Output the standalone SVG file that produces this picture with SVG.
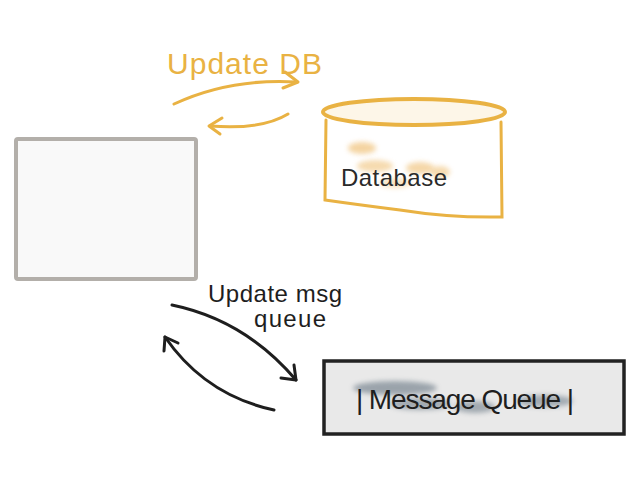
<svg xmlns="http://www.w3.org/2000/svg" width="638" height="479" viewBox="0 0 638 479">
<style>
.or{fill:none;stroke:#e9b243;stroke-width:3;stroke-linecap:round;stroke-linejoin:round}
.bk{fill:none;stroke:#1e1e1e;stroke-width:3;stroke-linecap:round;stroke-linejoin:round}
.hand{font-family:"Liberation Sans",Arial,sans-serif;font-weight:normal}
</style>
<defs>
<filter id="blur" x="-30%" y="-80%" width="160%" height="260%"><feGaussianBlur stdDeviation="2.5"/></filter>
</defs>
<rect width="638" height="479" fill="#ffffff"/>
<g id="server">
<rect x="16" y="139" width="180" height="140" fill="#f9f9f9" stroke="#b3afaa" stroke-width="4" rx="2"/>
</g>
<g id="database">
<path d="M326 120 L325 200 Q360 205 400 210 Q450 218 502 217 L501 122" fill="#ffffff" stroke="#e9b243" stroke-width="3" stroke-linecap="round"/>
<ellipse cx="414" cy="112" rx="91" ry="13" fill="#fdf6e8" stroke="#e9b243" stroke-width="4"/>
<ellipse cx="362" cy="148" rx="14" ry="6" fill="#f0c27a" opacity="0.7" filter="url(#blur)"/>
<ellipse cx="375" cy="166" rx="18" ry="6" fill="#f0c27a" opacity="0.6" filter="url(#blur)"/>
<ellipse cx="420" cy="168" rx="14" ry="6" fill="#f0c27a" opacity="0.65" filter="url(#blur)"/>
<ellipse cx="440" cy="172" rx="10" ry="6" fill="#f0c27a" opacity="0.6" filter="url(#blur)"/>
<ellipse cx="395" cy="183" rx="16" ry="5" fill="#f0c27a" opacity="0.45" filter="url(#blur)"/>
<text class="hand" x="341" y="186" font-size="24" fill="#2a2a2a" textLength="106">Database</text>
</g>
<g id="queue">
<rect x="324" y="361" width="300" height="73" fill="#e9e9e9" stroke="#222" stroke-width="3.5"/>
<ellipse cx="395" cy="388" rx="42" ry="7" fill="#5a6a78" opacity="0.55" filter="url(#blur)"/>
<ellipse cx="420" cy="404" rx="30" ry="6" fill="#5a6a78" opacity="0.5" filter="url(#blur)"/>
<ellipse cx="475" cy="407" rx="20" ry="6" fill="#5a6a78" opacity="0.5" filter="url(#blur)"/>
<ellipse cx="545" cy="401" rx="28" ry="6" fill="#5a6a78" opacity="0.5" filter="url(#blur)"/>
<text class="hand" x="356" y="409" font-size="28" fill="#1e1e1e" textLength="218">| Message Queue |</text>
</g>
<g id="connectors">
<text class="hand" x="167" y="74" font-size="30" fill="#e9b243" textLength="155">Update DB</text>
<path class="or" d="M174 104 Q230 78 297 82"/>
<path class="or" d="M285 72 L298 82 L283 88"/>
<path class="or" d="M288 114 Q262 130 210 126"/>
<path class="or" d="M222 118 L209 126 L220 134"/>
<text class="hand" x="208" y="302" font-size="24" fill="#1e1e1e" textLength="134">Update msg</text>
<text class="hand" x="254" y="327" font-size="24" fill="#1e1e1e" textLength="72">queue</text>
<path class="bk" d="M172 305 Q245 320 296 380"/>
<path class="bk" d="M294 365 L296 380 L281 378"/>
<path class="bk" d="M274 410 Q205 395 165 337"/>
<path class="bk" d="M164 351 L165 337 L178 343"/>
</g>
</svg>
